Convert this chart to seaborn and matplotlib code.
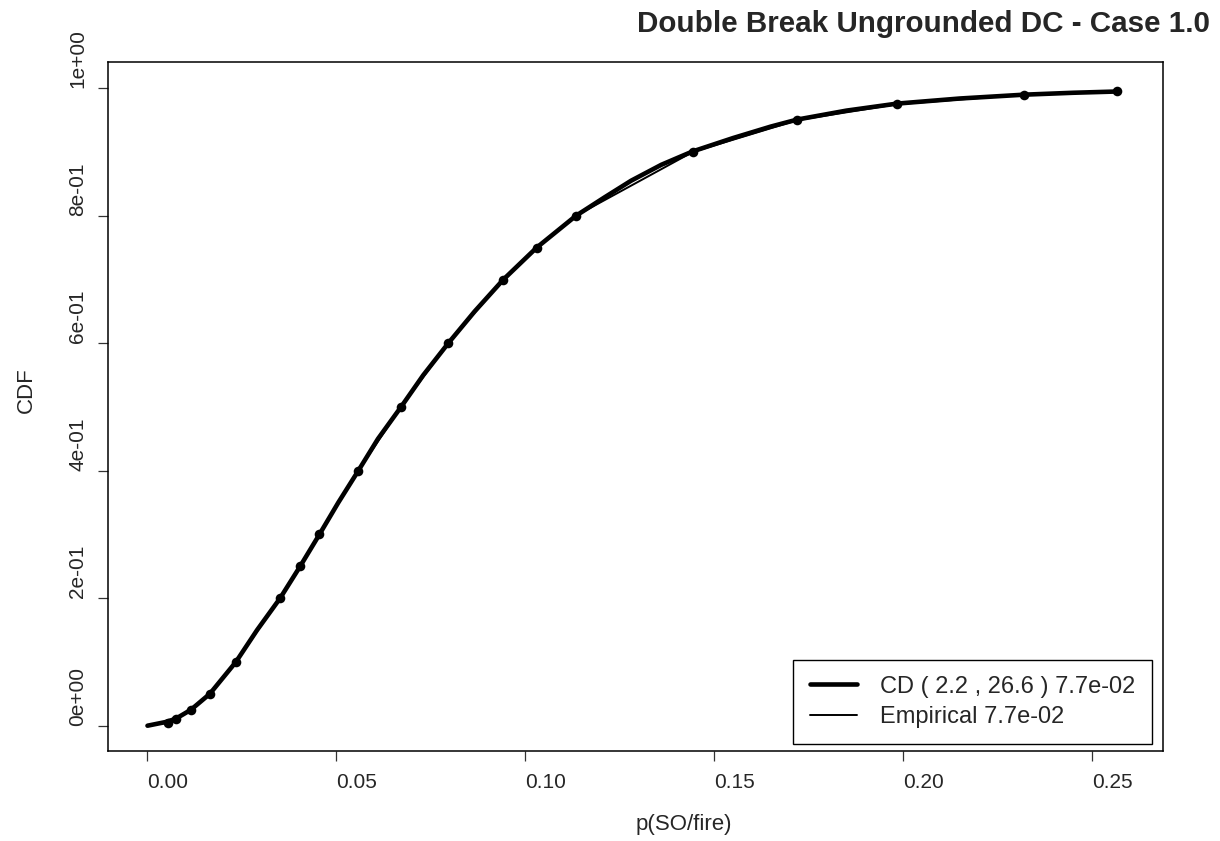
import matplotlib
matplotlib.use("Agg")
import matplotlib.pyplot as plt
import pandas as pd
import seaborn as sns

# empirical percentiles
emp_cdf = [0.0, 0.005, 0.01, 0.025, 0.05, 0.1, 0.2, 0.25, 0.3, 0.4, 0.5, 0.6,
           0.7, 0.75, 0.8, 0.9, 0.95, 0.975, 0.99, 0.995]
emp_x = [0.0, 0.0055, 0.0075, 0.0115, 0.0165, 0.0234, 0.0351, 0.0404, 0.0455,
         0.0558, 0.0671, 0.0796, 0.0942, 0.1030, 0.1134, 0.1443, 0.1720,
         0.1984, 0.2320, 0.2567]

# fitted CD curve, sampled by eye along the thick line
cd_x = [0.0, 0.005, 0.0075, 0.0115, 0.0165, 0.0234, 0.029, 0.0351, 0.0404,
        0.0455, 0.0505, 0.0558, 0.061, 0.0671, 0.073, 0.0796, 0.0866, 0.0942,
        0.1030, 0.1134, 0.121, 0.128, 0.136, 0.1443, 0.155, 0.165, 0.172,
        0.185, 0.1984, 0.215, 0.232, 0.245, 0.2567]
cd_y = [0.0, 0.006, 0.011, 0.025, 0.05, 0.1, 0.15, 0.2, 0.25, 0.3, 0.35, 0.4,
        0.45, 0.5, 0.55, 0.6, 0.65, 0.7, 0.75, 0.8, 0.829, 0.855, 0.88, 0.901,
        0.922, 0.94, 0.951, 0.965, 0.976, 0.984, 0.99, 0.993, 0.995]

x_ticks = [0.0, 0.05, 0.10, 0.15, 0.20, 0.25]
x_labels = ["0.00", "0.05", "0.10", "0.15", "0.20", "0.25"]
y_ticks = [0.0, 0.2, 0.4, 0.6, 0.8, 1.0]
y_labels = ["0e+00", "2e-01", "4e-01", "6e-01", "8e-01", "1e+00"]

title = "Double Break Ungrounded DC - Case 1.0"
cd_label = "CD ( 2.2 , 26.6 ) 7.7e-02"
emp_label = "Empirical 7.7e-02"

emp = pd.DataFrame({"x": emp_x, "cdf": emp_cdf})
cd = pd.DataFrame({"x": cd_x, "cdf": cd_y})

sns.set_theme(style="white")
plt.rcParams["font.family"] = ["Liberation Sans", "DejaVu Sans"]

fig = plt.figure(figsize=(12.2, 8.41), dpi=100)
ax = fig.add_axes([0.0885, 0.1070, 0.8645, 0.8193])

sns.lineplot(data=cd, x="x", y="cdf", sort=False, color="black", lw=3.3,
             label=cd_label, ax=ax)
sns.lineplot(data=emp, x="x", y="cdf", sort=False, color="black", lw=1.4,
             label=emp_label, ax=ax)
sns.scatterplot(data=emp.iloc[1:], x="x", y="cdf", color="black", s=48,
                edgecolor="black", linewidth=0, ax=ax, legend=False, zorder=5)

ax.set_xlim(-0.01046, 0.2687)
ax.set_ylim(-0.0397, 1.0413)

ax.set_xticks(x_ticks)
ax.set_xticklabels(x_labels, ha="left", fontsize=15)
ax.set_yticks(y_ticks)
ax.set_yticklabels(y_labels, rotation=90, va="bottom", ha="right", fontsize=15)
ax.tick_params(axis="both", direction="out", length=7, width=0.9,
               color="#333333", bottom=True, left=True)
ax.tick_params(axis="x", pad=9)
ax.tick_params(axis="y", pad=8)

for s in ax.spines.values():
    s.set_color("black")
    s.set_linewidth(1.1)

ax.set_xlabel("p(SO/fire)", fontsize=16)
ax.xaxis.label.set_ha("left")
ax.xaxis.label.set_va("top")
ax.xaxis.set_label_coords(0.5, -0.092)

ax.set_ylabel("CDF", fontsize=16)
ax.yaxis.label.set_rotation_mode("default")
ax.yaxis.label.set_ha("center")
ax.yaxis.label.set_va("bottom")
ax.yaxis.set_label_coords(-0.0777, 0.49)

fig.text(637 / 1220, 1 - 10 / 841, title, ha="left", va="top",
         fontsize=21.3, fontweight="bold")

leg = ax.legend(loc="lower right", bbox_to_anchor=(0.9896, 0.0102),
                borderaxespad=0, fontsize=17, handlelength=2.0,
                handletextpad=1.0, borderpad=0.68, labelspacing=0.35,
                fancybox=False, framealpha=1, edgecolor="black")
leg.get_frame().set_linewidth(1.0)

fig.savefig("out.png", dpi=100, facecolor="white")
